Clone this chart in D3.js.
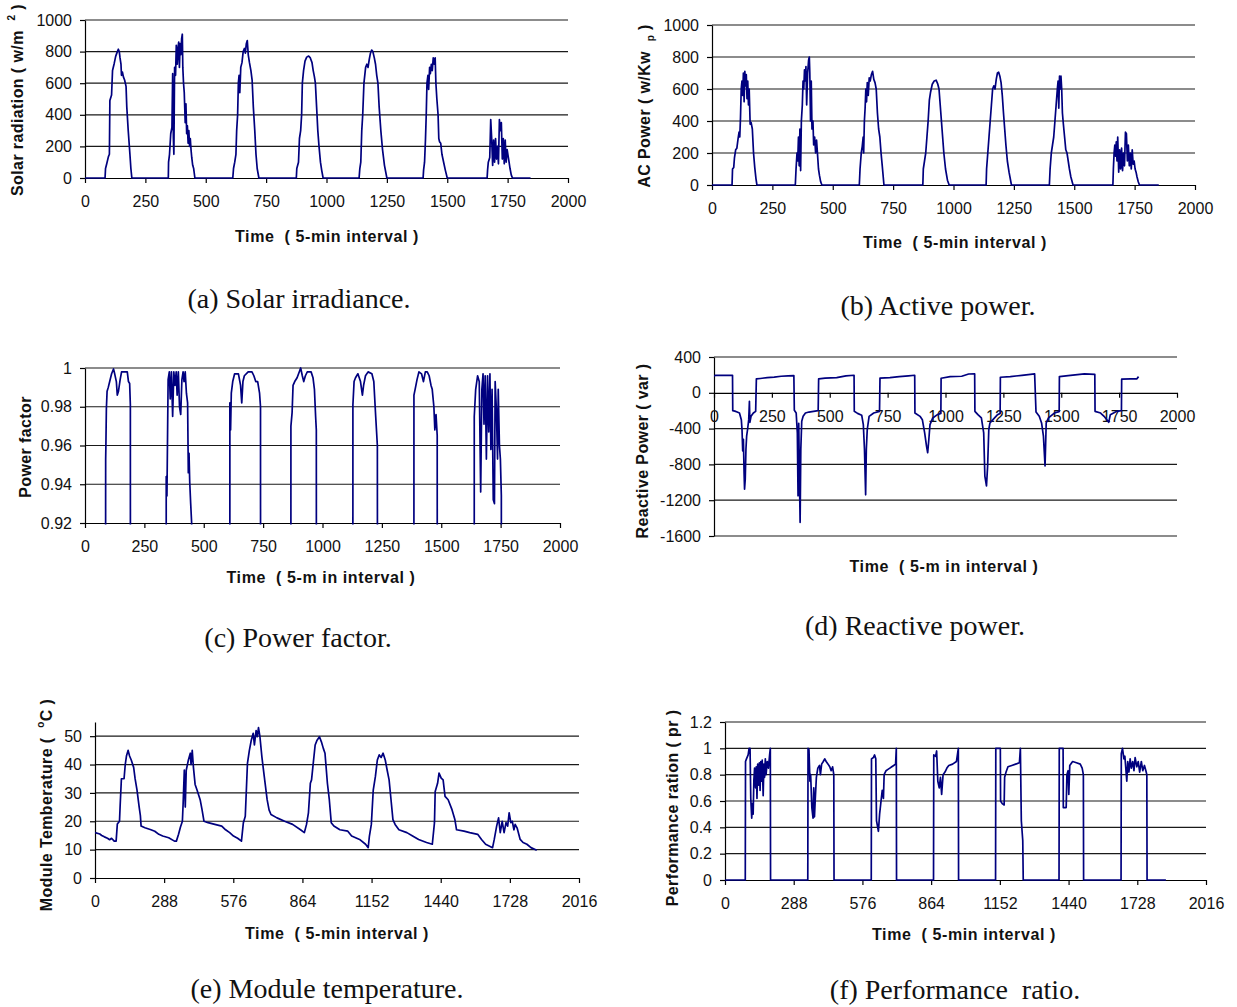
<!DOCTYPE html>
<html><head><meta charset="utf-8">
<script src="https://cdn.jsdelivr.net/npm/d3@7"></script>
<style>body{margin:0;background:#fff} text{white-space:pre}</style>
</head><body>
<svg id="chart" width="1237" height="1007"></svg>
<script>
// ---------- tick labels ----------
const timeTicks = [0,250,500,750,1000,1250,1500,1750,2000];
const timeTicks2016 = [0,288,576,864,1152,1440,1728,2016];
const solarTicks = [0,200,400,600,800,1000];
const acTicks = [0,200,400,600,800,1000];
const pfTicks = [0.92,0.94,0.96,0.98,1];
const reactiveTicks = [-1600,-1200,-800,-400,0,400];
const tempTicks = [0,10,20,30,40,50];
const prTicks = [0,0.2,0.4,0.6,0.8,1,1.2];

// ---------- series values: [time index (5-min), value] ----------
const solarIrradiance = [
[0,0],[83,0],[85,60],[90,90],[97,135],[101,150],[103,490],[110,525],[114,680],[121,725],[127,770],[134,800],[138,815],[142,800],[145,760],[149,720],[151,650],[155,670],[159,640],[164,620],[170,580],[173,450],[179,300],[186,150],[190,60],[194,0],
[345,0],[346,100],[350,150],[355,280],[360,320],[363,660],[366,250],[368,150],[371,700],[375,650],[378,840],[382,720],[385,820],[388,860],[391,700],[394,850],[397,780],[400,880],[403,910],[405,700],[408,600],[411,540],[415,350],[418,470],[421,280],[424,330],[427,220],[430,300],[433,200],[436,250],[439,180],[442,130],[446,80],[450,60],[455,0],
[612,0],[615,60],[620,100],[625,150],[628,300],[632,400],[635,600],[638,650],[641,540],[645,700],[650,730],[655,800],[660,820],[664,790],[668,850],[672,870],[676,780],[681,730],[687,680],[692,620],[697,450],[703,300],[708,150],[713,60],[720,0],
[875,0],[877,60],[884,100],[888,250],[893,300],[897,400],[900,600],[905,680],[911,740],[918,765],[926,772],[933,760],[940,730],[945,680],[950,640],[954,600],[959,450],[964,300],[969,200],[975,100],[980,50],[986,0],
[1135,0],[1138,60],[1142,100],[1146,300],[1150,400],[1155,600],[1162,700],[1167,720],[1172,700],[1177,750],[1182,790],[1187,810],[1192,800],[1198,760],[1203,720],[1208,650],[1213,600],[1218,450],[1225,300],[1232,180],[1240,80],[1250,0],
[1400,0],[1402,50],[1406,100],[1410,250],[1413,400],[1416,600],[1420,650],[1423,560],[1427,700],[1430,660],[1434,720],[1438,680],[1442,760],[1446,720],[1450,760],[1453,600],[1457,500],[1462,400],[1465,250],[1468,230],[1473,220],[1478,150],[1485,100],[1492,50],[1500,0],
[1665,0],[1667,50],[1670,100],[1676,130],[1680,370],[1684,250],[1688,80],[1692,240],[1696,100],[1700,250],[1704,120],[1708,200],[1712,90],[1716,370],[1720,300],[1724,350],[1728,120],[1732,250],[1736,90],[1740,240],[1744,100],[1748,180],[1752,140],[1756,100],[1760,60],[1765,20],[1770,0],[1845,0]
];

const activePower = [
[0,0],[83,0],[85,100],[90,110],[93,170],[98,220],[103,230],[108,290],[112,330],[115,300],[118,420],[121,600],[124,650],[127,560],[130,700],[133,520],[136,710],[139,620],[142,690],[145,540],[148,650],[151,500],[154,600],[158,380],[162,390],[167,350],[172,200],[177,110],[182,40],[186,0],
[345,0],[348,100],[352,200],[355,150],[358,300],[361,120],[364,350],[367,90],[370,400],[374,500],[377,650],[380,600],[383,720],[386,650],[389,740],[392,500],[396,700],[400,780],[403,800],[405,700],[408,400],[411,650],[414,350],[418,400],[421,250],[425,300],[429,200],[433,280],[437,190],[441,100],[445,60],[450,20],[455,0],
[610,0],[613,100],[618,200],[622,240],[626,300],[628,200],[631,400],[634,480],[637,600],[640,520],[643,640],[647,560],[651,670],[655,650],[660,690],[665,710],[670,660],[675,640],[680,600],[685,450],[690,350],[695,300],[700,200],[705,120],[712,0],
[873,0],[875,100],[880,150],[885,200],[890,300],[895,400],[900,530],[905,580],[912,630],[920,650],[928,655],[935,630],[940,600],[945,500],[950,400],[955,300],[960,200],[967,100],[975,30],[982,0],
[1135,0],[1137,100],[1142,200],[1147,300],[1152,400],[1157,500],[1162,600],[1167,620],[1172,600],[1177,660],[1182,700],[1187,705],[1192,680],[1197,640],[1202,560],[1207,450],[1212,350],[1217,250],[1223,150],[1230,80],[1240,0],
[1397,0],[1400,100],[1405,200],[1410,250],[1415,300],[1420,400],[1425,500],[1430,600],[1433,650],[1436,480],[1439,680],[1442,600],[1445,680],[1448,600],[1451,450],[1455,380],[1460,300],[1465,220],[1470,200],[1475,150],[1480,100],[1486,50],[1495,0],
[1660,0],[1662,100],[1665,200],[1668,250],[1671,180],[1674,270],[1677,150],[1680,300],[1684,80],[1688,220],[1692,100],[1696,230],[1700,90],[1704,200],[1708,120],[1712,330],[1716,320],[1720,150],[1724,250],[1728,120],[1732,200],[1736,100],[1740,220],[1744,130],[1748,150],[1752,100],[1756,80],[1760,50],[1765,20],[1770,0],[1850,0]
];

const powerFactor = [
[0,0],[82,0],[87,0.953],[88,0.96],[90,0.979],[93,0.988],[98,0.99],[104,0.993],[112,0.997],[120,0.9995],[125,0.997],[132,0.993],[136,0.986],[141,0.988],[148,0.994],[154,0.998],[165,0.998],[178,0.998],[183,0.993],[188,0.992],[191,0.981],[193,0],
[341,0],[342,0.944],[345,0.934],[350,0.994],[355,0.998],[359,0.984],[364,0.998],[369,0.975],[374,0.998],[379,0.991],[384,0.998],[388,0.986],[393,0.998],[398,0.98],[403,0.976],[408,0.994],[413,0.998],[417,0.993],[422,0.998],[427,0.987],[432,0.982],[435,0.946],[438,0.956],[441,0.941],[445,0.93],[449,0.92],[451,0],
[609,0],[610,0.982],[613,0.968],[616,0.987],[622,0.993],[630,0.997],[638,0.997],[646,0.997],[655,0.991],[660,0.982],[665,0.993],[671,0.996],[687,0.998],[703,0.998],[711,0.996],[719,0.993],[727,0.993],[735,0.987],[739,0.98],[741,0],
[866,0],[867,0.97],[872,0.977],[876,0.991],[883,0.993],[893,0.995],[904,0.9986],[908,1.0],[915,0.996],[921,0.993],[928,0.996],[936,0.998],[952,0.998],[960,0.995],[966,0.989],[971,0.975],[974,0.968],[977,0],
[1127,0],[1128,0.981],[1133,0.993],[1139,0.995],[1149,0.997],[1160,0.993],[1168,0.986],[1173,0.991],[1181,0.996],[1192,0.998],[1208,0.997],[1216,0.993],[1224,0.975],[1231,0.96],[1236,0],
[1384,0],[1385,0.986],[1390,0.989],[1398,0.994],[1406,0.998],[1417,0.997],[1425,0.993],[1433,0.998],[1441,0.998],[1449,0.996],[1457,0.991],[1462,0.989],[1469,0.98],[1473,0.968],[1478,0.976],[1483,0.965],[1486,0],
[1638,0],[1639,0.975],[1645,0.989],[1653,0.996],[1660,0.993],[1666,0.936],[1671,0.989],[1676,0.997],[1680,0.971],[1685,0.996],[1690,0.953],[1695,0.996],[1700,0.967],[1705,0.997],[1709,0.958],[1714,0.989],[1719,0.932],[1724,0.93],[1727,0.993],[1732,0.979],[1737,0.953],[1740,0.989],[1745,0.96],[1749,0.953],[1753,0.934],[1755,0],[1850,0]
];

const reactivePower = [
[0,185],[5,195],[80,195],[81,-200],[90,-205],[100,-215],[110,-225],[118,-300],[121,-410],[124,-650],[127,-520],[130,-900],[132,-1077],[135,-965],[138,-630],[141,-485],[145,-410],[150,-300],[153,-96],[155,-330],[160,-263],[170,-226],[180,-207],[183,155],[200,160],[230,170],[260,175],[290,185],[320,190],[345,192],
[347,-196],[355,-226],[360,-448],[363,-1150],[366,-340],[369,-930],[372,-1447],[375,-633],[379,-318],[385,-263],[395,-226],[410,-215],[430,-207],[450,-200],[452,155],[480,163],[530,170],[570,190],[605,196],
[606,-207],[620,-230],[638,-250],[645,-355],[650,-633],[655,-1140],[658,-633],[662,-410],[670,-263],[690,-226],[715,-207],[717,163],[760,170],[800,180],[840,190],[867,196],
[868,-226],[890,-263],[900,-300],[910,-448],[918,-596],[923,-670],[928,-522],[933,-355],[945,-281],[965,-244],[980,-230],[981,163],[1020,181],[1070,185],[1100,210],[1126,211],
[1127,-207],[1140,-244],[1155,-281],[1165,-448],[1170,-930],[1177,-1040],[1182,-818],[1187,-410],[1192,-337],[1205,-300],[1225,-244],[1236,-230],[1237,174],[1280,181],[1330,195],[1385,211],
[1391,-215],[1405,-263],[1415,-337],[1423,-485],[1430,-818],[1435,-337],[1445,-281],[1470,-226],[1491,-210],[1492,181],[1530,192],[1600,211],[1645,205],
[1646,-207],[1670,-226],[1685,-263],[1705,-330],[1712,-244],[1740,-207],[1760,-200],[1761,152],[1800,155],[1826,155],[1834,181]
];

const moduleTemp = [
[0,16],[20,15.5],[28,15],[39,14.5],[52,14],[61,13.5],[69,14],[80,13],[88,13],[93,19],[102,20],[105,26],[110,35],[121,35],[126,40],[131,43],[138,45],[144,43],[151,41.6],[161,39],[167,35],[175,31],[184,25],[189,22],[192,18.3],[208,17.7],[233,17],[249,16.5],[266,15.4],[282,14.8],[307,14.2],[331,13],
[339,13],[348,15.4],[356,18],[364,20],[367,26],[372,38],[376,25],[380,38],[389,41.6],[397,44],[400,40],[405,45],[410,39],[417,33],[425,31],[438,27.6],[446,24],[454,20],[471,19.5],[495,19],[528,18.3],[544,17],[561,16],[577,14.8],[594,14],[610,13],
[618,19.5],[626,21.8],[635,40.4],[643,45],[651,48.6],[659,51],[664,46.9],[671,52],[676,49.8],[681,53],[687,49.8],[695,42.8],[705,35.8],[717,27.6],[725,24],[733,22.4],[758,21.2],[790,20],[823,18.9],[856,17],[872,16],
[881,18.9],[889,23],[897,33.4],[902,34.6],[909,40.4],[917,46.9],[925,48.6],[935,49.8],[943,48],[951,45.7],[958,44],[968,33.4],[976,27.6],[984,19.5],[995,18.3],[1020,17],[1053,16.5],[1069,14.8],[1102,13.6],[1127,11.9],[1138,10.7],
[1143,14.8],[1151,18.9],[1159,31],[1168,35.8],[1176,41.6],[1184,43.4],[1192,42.5],[1200,44],[1209,41.6],[1217,38],[1225,34.6],[1233,27.6],[1241,20.6],[1250,18.9],[1266,17],[1299,16],[1323,14.8],[1348,13.6],[1381,12.5],[1405,11.9],
[1414,19.5],[1417,30.5],[1427,33.4],[1433,37],[1442,35.2],[1450,34.6],[1458,28.8],[1471,27.6],[1487,24.1],[1499,20.6],[1506,17],[1537,16.5],[1561,16],[1594,15.4],[1610,13.6],[1627,11.9],[1656,10.7],
[1663,13.6],[1673,18.3],[1681,21.2],[1688,16],[1696,20],[1704,16],[1712,19.5],[1719,18.3],[1725,23],[1732,19.5],[1738,20],[1745,17],[1750,18.9],[1758,17.7],[1771,13.6],[1783,12.5],[1799,11.9],[1816,10.7],[1840,9.8]
];

const performanceRatio = [
[0,0],[85,0],[86,0.9],[90,0.92],[97,0.95],[101,1.0],[105,1.0],[108,0.62],[112,0.47],[115,0.58],[118,0.5],[121,0.76],[124,0.85],[128,0.7],[131,0.86],[134,0.62],[137,0.88],[140,0.72],[144,0.89],[147,0.68],[150,0.9],[153,0.75],[156,0.91],[160,0.64],[163,0.88],[166,0.78],[169,0.92],[172,0.8],[177,0.9],[182,0.85],[187,0.95],[190,1.0],[191,0],
[347,0],[348,1.0],[352,0.99],[356,0.75],[359,0.8],[364,0.55],[369,0.47],[372,0.7],[375,0.48],[378,0.6],[383,0.78],[389,0.85],[396,0.87],[400,0.8],[405,0.88],[412,0.9],[418,0.92],[424,0.9],[432,0.88],[439,0.86],[445,0.83],[451,0.86],[456,0.8],[457,0],
[613,0],[614,0.92],[622,0.93],[627,0.95],[632,0.92],[635,0.45],[640,0.4],[643,0.37],[648,0.5],[654,0.6],[659,0.68],[664,0.62],[667,0.8],[675,0.83],[683,0.84],[691,0.85],[699,0.86],[707,0.87],[715,0.88],[718,1.0],[719,0],
[874,0],[875,0.95],[883,0.94],[887,0.98],[892,0.75],[898,0.7],[903,0.78],[908,0.65],[914,0.8],[922,0.82],[930,0.85],[938,0.87],[954,0.88],[970,0.9],[978,1.0],[979,0],
[1134,0],[1135,1.0],[1154,1.0],[1155,0.6],[1162,0.58],[1170,0.57],[1172,0.78],[1178,0.82],[1186,0.86],[1202,0.87],[1218,0.88],[1234,0.89],[1238,1.0],[1242,0.45],[1248,0.3],[1250,0],
[1400,0],[1401,1.0],[1417,1.0],[1418,0.55],[1430,0.55],[1433,0.8],[1438,0.83],[1441,0.65],[1445,0.87],[1457,0.9],[1473,0.89],[1489,0.88],[1497,0.85],[1502,0.8],[1503,0],
[1660,0],[1661,0.96],[1666,1.0],[1672,0.92],[1676,0.94],[1684,0.75],[1688,0.9],[1693,0.82],[1698,0.92],[1703,0.85],[1709,0.9],[1714,0.83],[1719,0.93],[1726,0.86],[1732,0.9],[1738,0.82],[1745,0.9],[1751,0.83],[1758,0.87],[1764,0.83],[1768,0.8],[1769,0],[1848,0]
];

// ---------- layout ----------
const SANS = "'Liberation Sans', Arial, sans-serif";
const SERIF = "'Liberation Serif', 'Times New Roman', serif";
const LINE = "#00007f";

const panels = [
 {data: solarIrradiance, xDom:[0,2000], xTicks: timeTicks, yDom:[0,1000], yTicks: solarTicks, axisAt:0,
  x0:85, x1:568, yTop:20, yBot:178,
  yTitle:[["Solar radiation ( w/m  ",0],["2",-1],[" )",0]], yTitleX:17, yTitleY:100,
  xTitle:"Time  ( 5-min interval )", xTitleX:327, xTitleY:242,
  caption:"(a) Solar irradiance.", capX:299, capY:308},
 {data: activePower, xDom:[0,2000], xTicks: timeTicks, yDom:[0,1000], yTicks: acTicks, axisAt:0,
  x0:712, x1:1195, yTop:25, yBot:185,
  yTitle:[["AC Power ( w/Kw  ",0],["p",1],[" )",0]], yTitleX:644, yTitleY:106,
  xTitle:"Time  ( 5-min interval )", xTitleX:955, xTitleY:248,
  caption:"(b) Active power.", capX:938, capY:315},
 {data: powerFactor, xDom:[0,2000], xTicks: timeTicks, yDom:[0.92,1], yTicks: pfTicks, axisAt:0.92,
  x0:85, x1:560, yTop:368, yBot:523,
  yTitle:[["Power factor",0]], yTitleX:25, yTitleY:447,
  xTitle:"Time  ( 5-m in interval )", xTitleX:321, xTitleY:583,
  caption:"(c) Power factor.", capX:298, capY:647},
 {data: reactivePower, xDom:[0,2000], xTicks: timeTicks, yDom:[-1600,400], yTicks: reactiveTicks, axisAt:0,
  x0:714, x1:1177, yTop:357, yBot:536,
  yTitle:[["Reactive Power ( var )",0]], yTitleX:642, yTitleY:451,
  xTitle:"Time  ( 5-m in interval )", xTitleX:944, xTitleY:572,
  caption:"(d) Reactive power.", capX:915, capY:635},
 {data: moduleTemp, xDom:[0,2016], xTicks: timeTicks2016, yDom:[0,55], yTicks: tempTicks, axisAt:0,
  x0:95, x1:579, yTop:722, yBot:878,
  yTitle:[["Module Temberature (  ",0],["o",-1],["C )",0]], yTitleX:46, yTitleY:805,
  xTitle:"Time  ( 5-min interval )", xTitleX:337, xTitleY:939,
  caption:"(e) Module temperature.", capX:327, capY:998},
 {data: performanceRatio, xDom:[0,2016], xTicks: timeTicks2016, yDom:[0,1.2], yTicks: prTicks, axisAt:0,
  x0:725, x1:1206, yTop:722, yBot:880,
  yTitle:[["Performance ration ( pr )",0]], yTitleX:672, yTitleY:808,
  xTitle:"Time  ( 5-min interval )", xTitleX:964, xTitleY:940,
  caption:"(f) Performance  ratio.", capX:955, capY:999}
];

const svg = d3.select('#chart');
svg.append('rect').attr('width',1237).attr('height',1007).attr('fill','#fff');

panels.forEach((p,i) => {
  const g = svg.append('g');
  const x = d3.scaleLinear().domain(p.xDom).range([p.x0, p.x1]);
  const y = d3.scaleLinear().domain(p.yDom).range([p.yBot, p.yTop]);

  // gridlines
  g.selectAll('line.grid').data(p.yTicks.filter(v => v !== p.axisAt)).join('line')
    .attr('x1', p.x0).attr('x2', p.x1)
    .attr('y1', d => y(d)).attr('y2', d => y(d))
    .attr('stroke', '#1a1a1a').attr('stroke-width', 1.2);

  // y axis
  const ya = g.append('g').attr('transform', `translate(${p.x0},0)`)
    .call(d3.axisLeft(y).tickValues(p.yTicks).tickSize(5).tickPadding(8).tickSizeOuter(0).tickFormat(d => String(d)));
  // x axis
  const xa = g.append('g').attr('transform', `translate(0,${y(p.axisAt)})`)
    .call(d3.axisBottom(x).tickValues(p.xTicks).tickSize(5).tickPadding(13).tickSizeOuter(0).tickFormat(d => String(d)));
  [ya, xa].forEach(a => {
    a.select('.domain').attr('stroke', '#000').attr('stroke-width', 1.2);
    a.selectAll('.tick line').attr('stroke', '#000').attr('stroke-width', 1.2);
    a.selectAll('.tick text').attr('fill', '#111').style('font-family', SANS).style('font-size', '16px');
  });

  // clip
  const cid = 'clip' + i;
  svg.append('clipPath').attr('id', cid).append('rect')
    .attr('x', p.x0).attr('y', p.yTop - 4).attr('width', p.x1 - p.x0).attr('height', p.yBot - p.yTop + 5.5);

  const line = d3.line().x(d => x(d[0])).y(d => y(d[1]));
  g.append('path').datum(p.data).attr('d', line)
    .attr('fill', 'none').attr('stroke', LINE).attr('stroke-width', 1.7)
    .attr('stroke-linejoin', 'round').attr('clip-path', `url(#${cid})`);

  // y title
  const yt = g.append('text')
    .attr('transform', `translate(${p.yTitleX},${p.yTitleY}) rotate(-90)`)
    .attr('text-anchor', 'middle').attr('dominant-baseline', 'central')
    .style('font-family', SANS).style('font-size', '16px').style('font-weight', 'bold')
    .style('letter-spacing', '0.4px').attr('fill', '#111');
  let prev = 0;
  p.yTitle.forEach(([t, s]) => {
    const ts = yt.append('tspan').text(t);
    const shift = s * 6;
    ts.attr('dy', shift - prev);
    prev = shift;
    if (s !== 0) ts.style('font-size', '10px');
  });

  // x title
  g.append('text').attr('x', p.xTitleX).attr('y', p.xTitleY)
    .attr('text-anchor', 'middle')
    .style('font-family', SANS).style('font-size', '16px').style('font-weight', 'bold')
    .style('letter-spacing', '0.6px').attr('fill', '#111')
    .text(p.xTitle);

  // caption
  g.append('text').attr('x', p.capX).attr('y', p.capY)
    .attr('text-anchor', 'middle')
    .style('font-family', SERIF).style('font-size', '28px').attr('fill', '#111')
    .text(p.caption);
});
</script>
</body></html>
